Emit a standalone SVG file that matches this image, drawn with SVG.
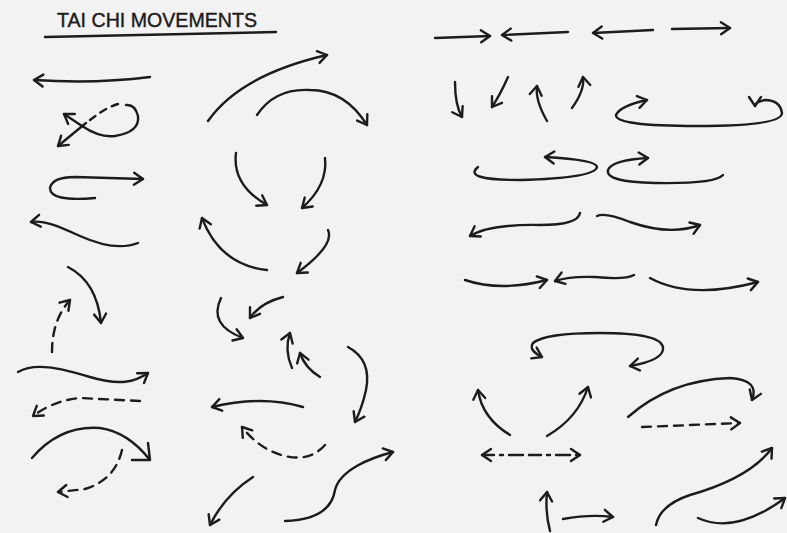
<svg xmlns="http://www.w3.org/2000/svg" width="787" height="533" viewBox="0 0 787 533">
<style>
.s{fill:none;stroke:#1c1c1c;stroke-width:2.4;stroke-linecap:round;stroke-linejoin:round}
.a{marker-end:url(#ah)}
.b{marker-start:url(#ah);marker-end:url(#ah)}
.d{stroke-dasharray:9 7}
.t{font-family:"Liberation Sans",Arial,sans-serif;font-size:19.5px;fill:#1c1c1c;stroke:#1c1c1c;stroke-width:0.4}
</style>
<defs>
<marker id="ah" markerUnits="userSpaceOnUse" markerWidth="24" markerHeight="24" viewBox="-12 -12 24 24" refX="0" refY="0" orient="auto-start-reverse" overflow="visible">
<path d="M-9,-6 L0,0 L-9,6" fill="none" stroke="#1c1c1c" stroke-width="2.4" stroke-linecap="round" stroke-linejoin="round"/>
</marker>
</defs>
<rect width="787" height="533" fill="#f2f2f2"/>
<g id="title">
<text class="t" x="57" y="27" textLength="200" lengthAdjust="spacingAndGlyphs">TAI CHI MOVEMENTS</text>
<path class="s" d="M45,37 Q160,34 276,32"/>
</g>
<g id="connectors">
<g id="col1">
<path class="s a" d="M150,77 Q95,84 34,80"/>
<path class="s a" d="M82,126 L64,114"/>
<path class="s" d="M82,126 Q100,138 115,136 Q140,132 138,116 Q135,104 126,105"/>
<path class="s" d="M118,104 Q105,108 90,120" stroke-dasharray="7 6"/>
<path class="s a" d="M86,123 L58,146"/>
<path class="s a" d="M95,198 Q50,202 50,188 Q52,177 75,177 L143,179"/>
<path class="s a" d="M138,243 C120,250 100,245 80,236 S45,220 31,222"/>
<path class="s a" d="M68,267 Q97,282 101,323"/>
<path class="s d a" d="M52,352 Q52,320 70,300"/>
<path class="s a" d="M18,372 C35,362 60,368 90,377 S135,382 148,373"/>
<path class="s d a" d="M140,401 L80,398 Q55,400 33,416"/>
<path class="s" d="M32,458 Q60,425 100,428 Q128,432 150,460 M148,443 L150,460 L132,460"/>
<path class="s d a" d="M122,450 Q115,480 85,489 L58,492"/>
</g>
<g id="col2">
<path class="s a" d="M208,121 Q240,75 327,55"/>
<path class="s a" d="M257,115 Q275,88 310,90 Q345,90 367,125"/>
<path class="s a" d="M236,153 Q232,185 267,205"/>
<path class="s a" d="M325,158 Q328,185 302,208"/>
<path class="s a" d="M267,270 Q220,265 202,218"/>
<path class="s a" d="M328,230 Q335,245 297,273"/>
<path class="s a" d="M221,298 Q208,325 243,338"/>
<path class="s a" d="M283,297 Q260,303 250,318"/>
<path class="s a" d="M292,368 Q284,350 290,333"/>
<path class="s a" d="M320,377 Q305,368 300,353"/>
<path class="s a" d="M348,347 Q372,360 366,390 Q362,408 355,422"/>
<path class="s a" d="M303,407 Q262,395 212,407"/>
<path class="s d a" d="M325,445 Q310,462 285,456 Q260,450 242,427"/>
<path class="s a" d="M253,477 Q225,495 210,525"/>
<path class="s a" d="M285,521 C315,520 332,510 335,490 C340,470 370,458 393,452"/>
</g>
<g id="col3">
<path class="s a" d="M435,38 L490,36"/>
<path class="s a" d="M568,32 L502,35"/>
<path class="s a" d="M653,30 L593,33"/>
<path class="s a" d="M672,29 L730,28"/>
<path class="s a" d="M455,82 Q455,105 462,117"/>
<path class="s a" d="M508,77 Q500,95 492,107"/>
<path class="s a" d="M547,121 Q535,100 537,86"/>
<path class="s a" d="M572,108 Q585,90 583,77"/>
<path class="s b" d="M647,100 Q620,106 616,115 Q615,126 697,126 Q782,126 782,113 Q780,100 765,100 Q755,102 755,106"/>
<path class="s a" d="M478,167 Q462,180 520,180 Q595,178 597,167 Q597,160 545,157"/>
<path class="s a" d="M723,175 Q715,184 655,183 Q605,182 608,170 Q612,160 648,158"/>
<path class="s a" d="M580,213 Q578,225 540,225 Q490,224 470,236"/>
<path class="s a" d="M597,216 Q605,212 630,222 Q670,236 700,225"/>
<path class="s a" d="M465,280 Q500,292 547,280"/>
<path class="s a" d="M634,275 Q625,280 595,277 Q570,276 555,281"/>
<path class="s a" d="M650,278 Q690,300 758,282"/>
<path class="s b" d="M542,357 Q528,350 533,343 Q545,333 600,333 Q660,333 663,347 Q665,360 630,366"/>
<path class="s a" d="M510,435 Q482,418 478,390"/>
<path class="s a" d="M547,436 Q578,418 588,387"/>
<path class="s b" d="M482,455 L580,455" stroke-dasharray="12 6 3 6 14 6"/>
<path class="s a" d="M628,417 Q670,380 730,378 Q760,380 752,400"/>
<path class="s d a" d="M642,427 L740,423"/>
<path class="s a" d="M550,531 Q545,512 547,492"/>
<path class="s a" d="M563,519 Q590,514 613,517"/>
<path class="s a" d="M656,525 Q660,505 690,495 Q750,478 772,448"/>
<path class="s a" d="M698,518 Q735,535 785,498"/>
</g>
</g>
</svg>
